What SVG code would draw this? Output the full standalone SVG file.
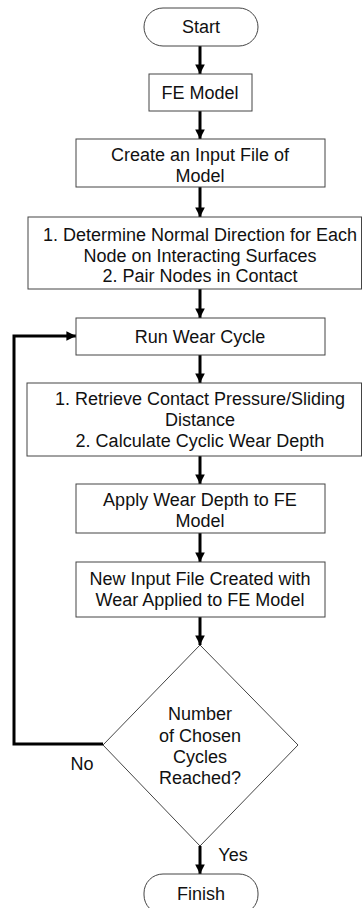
<svg xmlns="http://www.w3.org/2000/svg" width="362" height="908" viewBox="0 0 362 908">
<style>
.b{fill:#fff;stroke:#444;stroke-width:1}
.t{font-family:"Liberation Sans",Arial,sans-serif;font-size:18px;fill:#111;text-anchor:middle}
.c{fill:none;stroke:#000;stroke-width:3}
</style>
<defs>
<marker id="ah" viewBox="0 0 10 10" refX="10" refY="5" markerWidth="3.2" markerHeight="3.2" orient="auto" markerUnits="strokeWidth">
<path d="M0,0 L10,5 L0,10 Z" fill="#000"/>
</marker>
</defs>
<rect width="362" height="908" fill="#fff"/>
<g id="connectors">
<line class="c" x1="200" y1="46" x2="200" y2="74" marker-end="url(#ah)"/>
<line class="c" x1="200" y1="111" x2="200" y2="139" marker-end="url(#ah)"/>
<line class="c" x1="200" y1="187" x2="200" y2="217" marker-end="url(#ah)"/>
<line class="c" x1="200" y1="289" x2="200" y2="318" marker-end="url(#ah)"/>
<line class="c" x1="200" y1="355" x2="200" y2="383" marker-end="url(#ah)"/>
<line class="c" x1="200" y1="456" x2="200" y2="484" marker-end="url(#ah)"/>
<line class="c" x1="200" y1="533" x2="200" y2="562" marker-end="url(#ah)"/>
<line class="c" x1="200" y1="617" x2="200" y2="645" marker-end="url(#ah)"/>
<line class="c" x1="200" y1="846" x2="200" y2="874" marker-end="url(#ah)"/>
<polyline class="c" points="103,744 14,744 14,336 76,336" marker-end="url(#ah)"/>
<text class="t" x="82" y="770">No</text>
<text class="t" x="233" y="861">Yes</text>
</g>
<g id="start"><rect class="b" x="144" y="8" width="114" height="38" rx="19"/><text class="t" x="201" y="33">Start</text></g>
<g id="fe-model"><rect class="b" x="149" y="74" width="103" height="37"/><text class="t" x="200" y="99">FE Model</text></g>
<g id="create-input"><rect class="b" x="76" y="139" width="249" height="48"/><text class="t" x="200" y="161">Create an Input File of</text><text class="t" x="200" y="182">Model</text></g>
<g id="normal-direction"><rect class="b" x="28" y="217" width="333.5" height="72"/><text class="t" x="200" y="241">1. Determine Normal Direction for Each</text><text class="t" x="200" y="262">Node on Interacting Surfaces</text><text class="t" x="200" y="282">2. Pair Nodes in Contact</text></g>
<g id="run-wear"><rect class="b" x="76" y="318" width="249" height="37"/><text class="t" x="200" y="343">Run Wear Cycle</text></g>
<g id="retrieve"><rect class="b" x="27" y="383" width="334.5" height="73"/><text class="t" x="200" y="405">1. Retrieve Contact Pressure/Sliding</text><text class="t" x="200" y="426">Distance</text><text class="t" x="200" y="447">2. Calculate Cyclic Wear Depth</text></g>
<g id="apply-wear"><rect class="b" x="76" y="484" width="249" height="49"/><text class="t" x="200" y="506">Apply Wear Depth to FE</text><text class="t" x="200" y="527">Model</text></g>
<g id="new-input"><rect class="b" x="76" y="562" width="249" height="55"/><text class="t" x="200" y="585">New Input File Created with</text><text class="t" x="200" y="606">Wear Applied to FE Model</text></g>
<g id="decision"><polygon class="b" points="200,645 298,745 200,846 103,745"/><text class="t" x="200" y="720">Number</text><text class="t" x="200" y="742">of Chosen</text><text class="t" x="200" y="763">Cycles</text><text class="t" x="200" y="784">Reached?</text></g>
<g id="finish"><rect class="b" x="144" y="874" width="114" height="40" rx="19"/><text class="t" x="201" y="900">Finish</text></g>
</svg>
